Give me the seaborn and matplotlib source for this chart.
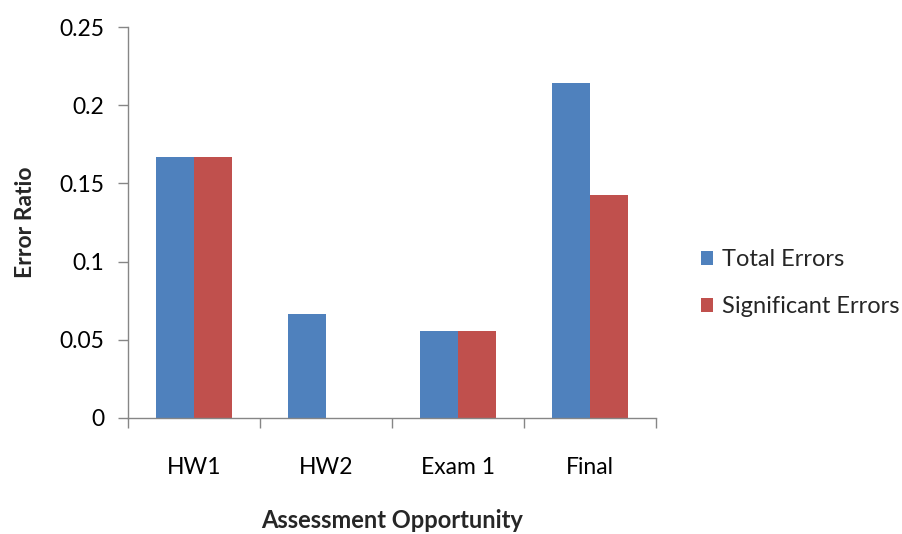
import matplotlib
matplotlib.use("Agg")
import matplotlib.pyplot as plt
import seaborn as sns
import pandas as pd
from matplotlib.patches import Patch

categories = ["HW1", "HW2", "Exam 1", "Final"]
total_errors = [0.1667, 0.0667, 0.0556, 0.2143]
significant_errors = [0.1667, 0.0, 0.0556, 0.1429]
series_names = ["Total Errors", "Significant Errors"]
y_ticks = [0, 0.05, 0.1, 0.15, 0.2, 0.25]
y_tick_labels = ["0", "0.05", "0.1", "0.15", "0.2", "0.25"]

df = pd.DataFrame({
    "Assessment": categories * 2,
    "Value": total_errors + significant_errors,
    "Series": [series_names[0]] * len(categories) + [series_names[1]] * len(categories),
})

sns.set_style("white")
plt.rcParams["font.family"] = ["Lato", "DejaVu Sans"]

colors = ["#4F81BD", "#C0504D"]
fig = plt.figure(figsize=(9.03, 5.34), dpi=100)
ax = fig.add_axes([128 / 903, 1 - 418 / 534, (656 - 128) / 903, (418 - 27) / 534])

sns.barplot(data=df, x="Assessment", y="Value", hue="Series", palette=colors,
            width=0.575, saturation=1, ax=ax, legend=False, linewidth=0)

ax.set_xlim(-0.5, 3.5)
ax.set_ylim(0, 0.25)
ax.set_yticks(y_ticks)
ax.set_yticklabels(y_tick_labels)

ax.set_xticks([-0.5, 0.5, 1.5, 2.5, 3.5])
ax.set_xticklabels([])
ax.set_xticks(range(len(categories)), minor=True)
ax.set_xticklabels(categories, minor=True)

gray = "#868686"
for s in ["top", "right"]:
    ax.spines[s].set_visible(False)
for s in ["left", "bottom"]:
    ax.spines[s].set_color(gray)
    ax.spines[s].set_linewidth(1)

ax.tick_params(axis="y", which="major", direction="out", length=7, width=1,
               color=gray, labelsize=16.5, labelcolor="#000000", pad=10, left=True)
ax.tick_params(axis="x", which="major", direction="out", length=7, width=1,
               color=gray, bottom=True)
ax.tick_params(axis="x", which="minor", length=0, labelsize=16.5, pad=28,
               labelcolor="#000000")

ax.set_xlabel("Assessment Opportunity", fontsize=17, fontweight="bold")
ax.xaxis.set_label_coords(0.5, -0.233)
ax.set_ylabel("Error Ratio", fontsize=16.5, fontweight="bold")
ax.yaxis.set_label_coords(-0.175, 0.5)

handles = [Patch(facecolor=c, edgecolor="none") for c in colors]
fig.legend(handles, series_names, loc="center left",
           bbox_to_anchor=(701 / 903, 1 - 283 / 534), frameon=False,
           fontsize=17, handlelength=0.52, handleheight=0.55, handletextpad=0.38,
           labelspacing=1.1, borderpad=0, borderaxespad=0)

fig.savefig("out.png", dpi=100)
